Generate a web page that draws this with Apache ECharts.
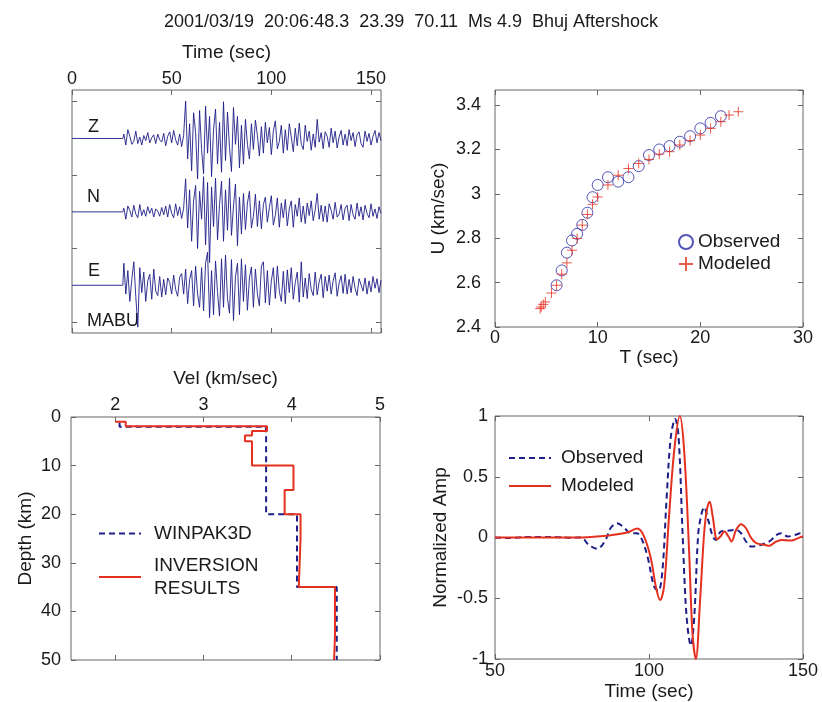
<!DOCTYPE html>
<html lang="en">
<head>
<meta charset="UTF-8">
<title>Bhuj Aftershock</title>
<script src="https://cdn.jsdelivr.net/npm/echarts@6/dist/echarts.min.js"></script>
<style>
  html, body { margin: 0; padding: 0; background: #fff; }
  #container { width: 822px; height: 702px; }
</style>
</head>
<body>
<div id="container"></div>
<script>
var chartTitle = '2001/03/19  20:06:48.3  23.39  70.11  Ms 4.9  Bhuj Aftershock';

// --- seismograms (MABU), 1 s samples from seisStart, amplitude in 1/100 of trace spacing
var seisStart = 26;
var traceNames = ['Z', 'N', 'E'];
var traceBase = [250, 150, 50];
var ampZ = [6,-9,12,3,-8,-4,10,-7,2,-9,
  4,-3,8,-6,1,5,-7,6,-2,-5,
  7,-10,3,9,-6,11,-2,-9,6,-11,4,
  51,-28,20,-44,35,8,-55,38,-15,-48,
  44,-20,30,-52,12,40,-35,22,-46,50,
  -30,36,-12,-45,42,-8,30,-40,18,-35,
  26,-8,-28,20,-15,25,4,-24,16,-20,
  22,-6,15,-22,10,24,-14,-4,18,-20,
  12,-16,20,2,-18,14,-10,21,-8,-15,
  18,-4,10,-16,6,-12,26,-5,8,-14,
  9,3,-12,14,-6,10,-13,2,11,-9,
  6,-10,12,-3,8,-11,5,9,-7,-12,
  10,-4,7,-9,3,11,-6,8,-3];
var ampN = [5,-10,8,2,-7,9,-3,-8,10,-5,
  3,-6,7,-2,5,-7,4,1,-6,6,
  -4,8,-7,10,-2,-8,11,-5,7,-9,5,
  45,-22,30,-40,15,36,-50,28,-10,48,
  -45,40,-69,34,-20,46,-38,10,42,-40,
  30,-25,46,-32,8,38,-46,20,-30,25,
  -24,12,28,-22,-6,24,-20,15,-23,10,
  20,-14,6,22,-18,-5,19,-21,12,-8,
  17,-19,4,15,-21,10,-6,19,-14,8,
  -16,12,-5,15,-12,3,25,-10,9,-13,
  8,-14,11,2,-10,13,-7,-3,10,-11,
  5,9,-12,10,-4,-10,12,-6,7,-11,
  9,-2,-8,11,-6,4,-9,7,-2];
var ampE = [30,-12,20,-22,8,32,-15,-57,24,-10,
  18,-22,6,15,-19,22,-8,-14,12,-16,
  8,-13,10,4,-12,14,-6,-15,11,16,-12,
  22,-25,8,20,-28,26,-12,-30,24,-35,
  30,45,-44,20,-40,33,-10,-42,36,-30,
  41,-18,-38,35,-48,12,30,-40,36,-22,
  28,-34,10,25,-30,22,-12,-28,26,32,
  -24,20,-27,6,24,-18,26,-8,-22,19,
  -25,21,-10,24,-19,4,18,-23,32,-16,
  10,-18,16,-6,-14,18,-13,5,15,-17,
  12,-8,14,-12,6,17,-15,3,13,-11,
  15,-12,8,-10,12,-4,-14,9,11,-8,
  10,-12,6,-9,12,-4,9,-10,7];

// --- group velocity dispersion
var obsPeriod = [6,6.5,7,7.5,8,8.5,9,9.5,10,11,12,13,14,15,16,17,18,19,20,21,22];
var obsU = [2.588,2.655,2.735,2.79,2.82,2.86,2.915,2.985,3.04,3.075,3.055,3.075,3.125,3.175,3.2,3.215,3.235,3.26,3.295,3.32,3.35];
var modPeriod = [4.4,4.5,4.7,4.9,5.5,6,6.5,7,7.5,8,8.5,9,9.5,10,11,12,13,14,15,16,17,18,19,20,21,22,22.8,23.7];
var modU = [2.483,2.49,2.502,2.513,2.553,2.588,2.638,2.689,2.746,2.799,2.859,2.907,2.953,2.986,3.04,3.084,3.114,3.137,3.155,3.179,3.19,3.22,3.24,3.265,3.295,3.325,3.355,3.37];

// --- velocity profiles [vel, depth]
var winpak = [[2.05,1.2],[2.05,2],[3.71,2],[3.71,20],[4.06,20],[4.06,35],[4.51,35],[4.51,50]];
var inversion = [[2.0,1],[2.12,1],[2.12,1.9],[3.72,1.9],[3.72,2.9],[3.55,2.9],[3.55,3.8],[3.47,3.8],[3.47,5],
  [3.55,5],[3.55,10],[4.02,10],[4.02,15],[3.92,15],[3.92,20],[4.1,20],[4.1,25],[4.08,25],[4.08,35],
  [4.49,35],[4.49,45],[4.48,45],[4.48,50]];

// --- waveform fit
var obsTime = [50,55,60,65,70,75,78,80.4,83.2,85.9,87.5,89.7,92.1,94,96,97.5,99.5,101.6,103,104.3,105.8,107.1,
  108.5,109.6,110.9,112.2,113.6,114.7,116,117.1,117.9,119.2,120.7,121.7,123.4,126.1,128.3,129.9,131.5,133.2,
  135.3,138,139.7,141.3,142.9,145.1,147.3,149.5,150];
var obsAmp = [0,-0.005,0.005,0.005,0.003,-0.002,0,-0.06,-0.093,-0.02,0.076,0.117,0.076,0.035,0.035,-0.005,-0.155,
  -0.4,-0.44,-0.29,0.36,0.83,0.975,0.83,0.035,-0.65,-0.89,-0.65,0.035,0.2,0.25,0.145,0.01,-0.02,0.05,0.057,0.063,
  0.035,-0.033,-0.074,-0.068,-0.046,-0.02,0.02,0.035,0.008,0.02,0.035,0.02];
var modTime = [50,60,70,80,86.4,90.8,93.8,96.2,98.2,100.5,102.2,103.6,104.9,106.5,108.2,110,111.4,113,114.1,115.2,
  116.6,117.9,118.8,119.7,120.7,122.1,123.2,124.5,125.8,126.8,128.3,129.9,131.5,133.2,134.8,137.5,139.1,140.8,
  142.9,146.2,148.4,150];
var modAmp = [0,0,0,0.003,0.014,0.03,0.05,0.075,0.02,-0.16,-0.4,-0.515,-0.4,0.17,0.72,1.0,0.72,-0.1,-0.78,-1.0,
  -0.51,0.035,0.23,0.295,0.17,-0.014,0.008,0.05,0.008,-0.033,0.063,0.11,0.076,-0.005,-0.046,-0.06,-0.068,-0.041,
  -0.02,-0.025,-0.005,0.01];

var fontFam = 'Liberation Sans, Arial, sans-serif';
var frameColor = '#666';
var textColor = '#1a1a1a';
var navy = '#1e1e88';
var red = '#e4301f';

var ampSets = [ampZ, ampN, ampE];
function seisData(amp, base) {
  var d = [[0, base], [seisStart - 0.5, base]];
  amp.forEach(function (a, i) { d.push([seisStart + i, base + a]); });
  return d;
}
function pairs(xs, ys) {
  return xs.map(function (x, i) { return [x, ys[i]]; });
}

function makeAxis(grid, position, sc, main) {
  var ax = {
    type: 'value', gridIndex: grid, position: position,
    min: sc.min, max: sc.max, inverse: !!sc.inverse,
    axisLine: { show: false, onZero: false },
    splitLine: { show: false },
    axisTick: { inside: true, length: 5, lineStyle: { color: frameColor } },
    axisLabel: {
      show: !!(main && sc.labels), margin: sc.margin || 4, showMaxLabel: !sc.hideMax,
      color: textColor, fontSize: 18, fontFamily: fontFam
    }
  };
  if (sc.ticks) {
    ax.axisTick.customValues = sc.ticks;
    ax.axisLabel.customValues = sc.ticks;
  } else {
    ax.interval = sc.interval;
  }
  if (main && sc.name) {
    ax.name = sc.name;
    ax.nameLocation = 'middle';
    ax.nameGap = sc.nameGap;
    ax.nameTextStyle = { color: textColor, fontSize: 19, fontFamily: fontFam };
  }
  return ax;
}

var seisX = { min: 0, max: 155, interval: 50, hideMax: true, labels: true, margin: 2, name: 'Time (sec)', nameGap: 28 };
var seisY = { min: -15, max: 316, ticks: [0, 100, 200, 300] };
var dispX = { min: 0, max: 30, interval: 10, labels: true, margin: 2, name: 'T (sec)', nameGap: 21 };
var dispY = { min: 2.4, max: 3.468, interval: 0.2, hideMax: true, labels: true, margin: 14, name: 'U (km/sec)', nameGap: 47 };
var velX = { min: 1.5, max: 5, ticks: [2, 3, 4, 5], labels: true, margin: 3, name: 'Vel (km/sec)', nameGap: 29 };
var depthY = { min: 0, max: 50, interval: 10, inverse: true, labels: true, margin: 10, name: 'Depth (km)', nameGap: 36 };
var ampX = { min: 50, max: 150, interval: 50, labels: true, margin: 3, name: 'Time (sec)', nameGap: 23 };
var ampY = { min: -1, max: 1, interval: 0.5, labels: true, margin: 7, name: 'Normalized Amp', nameGap: 45 };

var gridBox = { show: true, borderColor: frameColor, borderWidth: 1, backgroundColor: 'transparent' };

var series = [];
traceNames.forEach(function (nm, k) {
  series.push({
    name: nm, type: 'line', xAxisIndex: 0, yAxisIndex: 0,
    data: seisData(ampSets[k], traceBase[k]),
    showSymbol: false, symbol: 'none',
    lineStyle: { color: navy, width: 0.9 }
  });
});
series.push({
  name: 'Observed', type: 'scatter', xAxisIndex: 2, yAxisIndex: 2,
  data: pairs(obsPeriod, obsU), symbol: 'circle', symbolSize: 11,
  itemStyle: { color: 'rgba(0,0,0,0)', borderColor: '#2a2aa8', borderWidth: 1 }
});
series.push({
  name: 'Modeled', type: 'scatter', xAxisIndex: 2, yAxisIndex: 2,
  data: pairs(modPeriod, modU), symbol: 'path://M0,5L10,5M5,0L5,10', symbolSize: 10,
  itemStyle: { color: 'rgba(0,0,0,0)', borderColor: red, borderWidth: 1 }
});
series.push({
  name: 'WINPAK3D', type: 'line', xAxisIndex: 4, yAxisIndex: 4,
  data: winpak, symbol: 'none', itemStyle: { color: navy },
  lineStyle: { color: navy, width: 2, type: [6, 4] }
});
series.push({
  name: 'INVERSION\nRESULTS', type: 'line', xAxisIndex: 4, yAxisIndex: 4,
  data: inversion, symbol: 'none', itemStyle: { color: red },
  lineStyle: { color: red, width: 2 }
});
series.push({
  name: 'Observed ', type: 'line', xAxisIndex: 6, yAxisIndex: 6,
  data: pairs(obsTime, obsAmp), symbol: 'none', smooth: 0.35, itemStyle: { color: navy },
  lineStyle: { color: navy, width: 2, type: [6, 4] }
});
series.push({
  name: 'Modeled ', type: 'line', xAxisIndex: 6, yAxisIndex: 6,
  data: pairs(modTime, modAmp), symbol: 'none', smooth: 0.35, itemStyle: { color: red },
  lineStyle: { color: red, width: 2 }
});

var legendText = { color: textColor, fontSize: 19, fontFamily: fontFam, lineHeight: 20 };

var option = {
  animation: false,
  backgroundColor: '#fff',
  title: {
    text: chartTitle, left: 'center', top: 8,
    textStyle: { color: textColor, fontSize: 18, fontWeight: 'normal', fontFamily: fontFam }
  },
  grid: [
    Object.assign({ left: 72, top: 90, width: 309, height: 243 }, gridBox),
    Object.assign({ left: 495, top: 90, width: 308, height: 237 }, gridBox),
    Object.assign({ left: 71, top: 417, width: 309, height: 243 }, gridBox),
    Object.assign({ left: 495, top: 416, width: 308, height: 244 }, gridBox)
  ],
  xAxis: [
    makeAxis(0, 'top', seisX, true), makeAxis(0, 'bottom', seisX, false),
    makeAxis(1, 'bottom', dispX, true), makeAxis(1, 'top', dispX, false),
    makeAxis(2, 'top', velX, true), makeAxis(2, 'bottom', velX, false),
    makeAxis(3, 'bottom', ampX, true), makeAxis(3, 'top', ampX, false)
  ],
  yAxis: [
    makeAxis(0, 'left', seisY, true), makeAxis(0, 'right', seisY, false),
    makeAxis(1, 'left', dispY, true), makeAxis(1, 'right', dispY, false),
    makeAxis(2, 'left', depthY, true), makeAxis(2, 'right', depthY, false),
    makeAxis(3, 'left', ampY, true), makeAxis(3, 'right', ampY, false)
  ],
  legend: [
    {
      data: ['Observed', 'Modeled'], orient: 'vertical', left: 678, top: 232, padding: 0,
      itemWidth: 14, itemHeight: 14, itemGap: 2, selectedMode: false, textStyle: legendText
    },
    {
      data: ['WINPAK3D', 'INVERSION\nRESULTS'], orient: 'vertical', left: 98, top: 522, padding: 0,
      itemWidth: 42, itemHeight: 14, itemGap: 9, selectedMode: false, itemStyle: { opacity: 0 },
      textStyle: Object.assign({}, legendText, { lineHeight: 23, padding: [0, 0, 0, 8] })
    },
    {
      data: ['Observed ', 'Modeled '], orient: 'vertical', left: 508, top: 448, padding: 0,
      itemWidth: 42, itemHeight: 14, itemGap: 8, selectedMode: false, itemStyle: { opacity: 0 },
      textStyle: Object.assign({}, legendText, { padding: [0, 0, 0, 5] })
    }
  ],
  graphic: [
    { type: 'text', left: 88, top: 118, style: { text: 'Z', fill: textColor, font: '18px ' + fontFam } },
    { type: 'text', left: 87, top: 188, style: { text: 'N', fill: textColor, font: '18px ' + fontFam } },
    { type: 'text', left: 88, top: 262, style: { text: 'E', fill: textColor, font: '18px ' + fontFam } },
    { type: 'text', left: 87, top: 312, style: { text: 'MABU', fill: textColor, font: '18px ' + fontFam } }
  ],
  series: series
};

var myChart = echarts.init(document.getElementById('container'));
myChart.setOption(option);
</script>
</body>
</html>
